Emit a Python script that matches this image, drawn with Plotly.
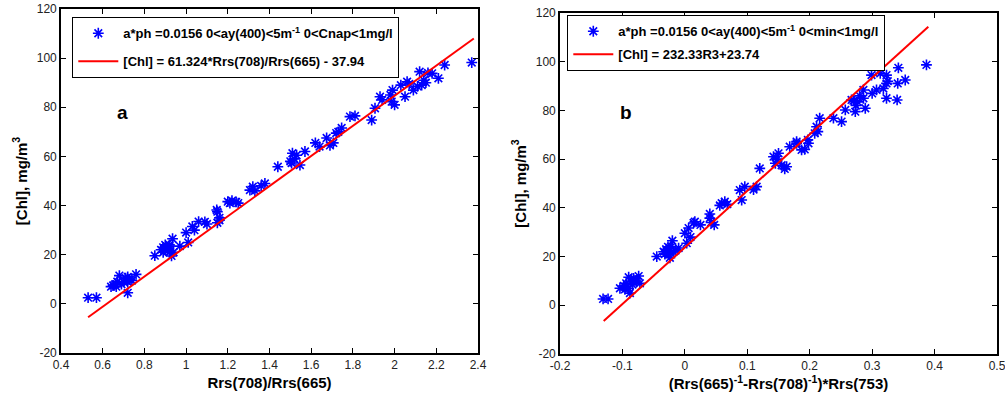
import plotly.graph_objects as go

# ---- Panel a data: Rrs(708)/Rrs(665) vs [Chl]
a_x = [0.53, 0.57,
       0.64, 0.65, 0.66, 0.67, 0.68, 0.69, 0.70, 0.71, 0.72, 0.72, 0.73, 0.74, 0.76, 0.665, 0.72,
       0.85,
       0.88, 0.89, 0.89, 0.90, 0.90, 0.91, 0.92, 0.92, 0.93, 0.935, 0.94, 0.92, 0.97, 0.895, 0.905,
       1.00, 1.01, 1.03, 1.04, 1.06, 1.10, 1.15, 1.15, 1.16, 1.16, 1.09, 1.147,
       1.21, 1.22, 1.24, 1.25, 1.20,
       1.306, 1.32, 1.33, 1.378, 1.36,
       1.44, 1.51, 1.506, 1.546, 1.57, 1.52, 1.53, 1.50,
       1.62, 1.674, 1.706, 1.72, 1.746, 1.64, 1.69, 1.73,
       1.786, 1.81, 1.89, 1.906, 1.93, 1.94, 1.98, 1.986, 2.00, 1.99, 2.03, 2.05, 2.06,
       2.09, 2.13, 2.12, 2.14, 2.16, 2.18, 2.21, 2.24, 2.37, 2.07, 2.11, 2.15]
a_y = [2.5, 2.5,
       7, 7.5, 8, 9, 11.5, 8, 9, 10.5, 11, 4.5, 10, 9.5, 12, 7, 9,
       19.6,
       22, 23, 21, 22.5, 24, 22, 21, 23.5, 19.5, 26.5, 21, 24, 23.5, 22, 23,
       29, 25, 31.5, 30, 33.5, 32.5, 33, 37.5, 35, 34, 33.4, 38.2,
       41, 42, 41.5, 41, 41.6,
       46.3, 47.7, 46, 49, 48,
       55.8, 61.3, 57.3, 56.5, 62, 59, 60.5, 58,
       65.5, 67.5, 65.5, 69.5, 71.6, 64, 64.5, 70,
       76.2, 76.5, 74.8, 79.6, 84.3, 83, 85, 82.3, 81, 87, 89, 84.3, 90.4,
       87, 89, 94.5, 91, 94, 93.8, 91.8, 97.2, 98.2, 89.5, 88.5, 90]

# ---- Panel b data: (Rrs(665)^-1 - Rrs(708)^-1)*Rrs(753) vs [Chl]
b_x = [-0.131, -0.123,
       -0.104, -0.098, -0.094, -0.090, -0.088, -0.085, -0.082, -0.078, -0.074, -0.072, -0.090, -0.096, -0.084,
       -0.045,
       -0.034, -0.030, -0.028, -0.025, -0.022, -0.020, -0.018, -0.024, -0.010, -0.032, -0.027, -0.015,
       0.000, 0.006, 0.003, 0.014, 0.025, 0.040, 0.042, 0.047, 0.016, 0.040, 0.009,
       0.059, 0.064, 0.056, 0.068,
       0.088, 0.091, 0.096, 0.115, 0.110,
       0.120, 0.142, 0.150, 0.145, 0.163, 0.155, 0.148, 0.160,
       0.168, 0.179, 0.187, 0.198, 0.208, 0.211, 0.192, 0.197, 0.179, 0.213,
       0.216, 0.238, 0.251, 0.257, 0.273, 0.289, 0.267, 0.270, 0.277, 0.286, 0.286, 0.307,
       0.318, 0.323, 0.323, 0.341, 0.353, 0.299, 0.313, 0.323, 0.342, 0.387, 0.280, 0.300,
       0.274, 0.325, 0.340]
b_y = [2.6, 2.6,
       7, 8, 9, 11.5, 5, 10, 11, 10, 12, 9, 7, 6.5, 8.5,
       20,
       22, 23, 22.5, 21, 24, 26.5, 22, 19.5, 23.5, 21, 24, 22.5,
       29.6, 31.7, 25.5, 33.8, 33, 37.5, 34, 33, 34.3, 35.8, 28,
       41.9, 42.5, 41, 41.5,
       47.3, 43.2, 48.7, 48.7, 47.5,
       56.2, 61, 62.4, 58.3, 56.9, 57.5, 60, 56,
       65.1, 67.2, 63.8, 66.5, 70.6, 73.3, 64, 67.9, 66.5, 71.3,
       76.8, 76.8, 75.4, 80.2, 79.5, 80.9, 84.3, 84, 83.5, 88.4, 85, 88.4,
       89, 85, 91.1, 91.1, 92.5, 94.5, 95.2, 94.5, 97.5, 98.7, 86, 87,
       82, 92, 84.3]

# ---- Fitted lines (from the legend equations)
fit_a = {"slope": 61.324, "intercept": -37.94, "x": [0.53, 2.38]}
fit_b = {"slope": 232.33, "intercept": 23.74, "x": [-0.13, 0.39]}

# ---- Tick labels
a_xticks = [0.4, 0.6, 0.8, 1.0, 1.2, 1.4, 1.6, 1.8, 2.0, 2.2, 2.4]
a_xticklabels = ["0.4", "0.6", "0.8", "1", "1.2", "1.4", "1.6", "1.8", "2", "2.2", "2.4"]
b_xticks = [-0.2, -0.1, 0, 0.1, 0.2, 0.3, 0.4, 0.5]
b_xticklabels = ["-0.2", "-0.1", "0", "0.1", "0.2", "0.3", "0.4", "0.5"]
yticks = [-20, 0, 20, 40, 60, 80, 100, 120]
yticklabels = ["-20", "0", "20", "40", "60", "80", "100", "120"]

legend_a = ["a*ph =0.0156 0<ay(400)<5m<sup>-1</sup> 0<Cnap<1mg/l",
            "[Chl] = 61.324*Rrs(708)/Rrs(665) - 37.94"]
legend_b = ["a*ph =0.0156 0<ay(400)<5m<sup>-1</sup> 0<min<1mg/l",
            "[Chl] = 232.33R3+23.74"]

FONT = "Liberation Sans, Arial, sans-serif"
BLUE = "#0000FF"
RED = "#FF0000"

fig = go.Figure()

marker = dict(symbol="asterisk-open", size=9, color=BLUE,
              line=dict(color=BLUE, width=1.6))

fig.add_trace(go.Scatter(x=a_x, y=a_y, mode="markers", marker=marker,
                         name=legend_a[0], xaxis="x", yaxis="y",
                         legend="legend", legendgroup="a1"))
fig.add_trace(go.Scatter(x=fit_a["x"],
                         y=[fit_a["slope"] * v + fit_a["intercept"] for v in fit_a["x"]],
                         mode="lines", line=dict(color=RED, width=2),
                         name=legend_a[1], xaxis="x", yaxis="y",
                         legend="legend", legendgroup="a2"))
fig.add_trace(go.Scatter(x=b_x, y=b_y, mode="markers", marker=marker,
                         name=legend_b[0], xaxis="x2", yaxis="y2",
                         legend="legend2", legendgroup="b1"))
fig.add_trace(go.Scatter(x=fit_b["x"],
                         y=[fit_b["slope"] * v + fit_b["intercept"] for v in fit_b["x"]],
                         mode="lines", line=dict(color=RED, width=2),
                         name=legend_b[1], xaxis="x2", yaxis="y2",
                         legend="legend2", legendgroup="b2"))

W, H = 1005, 403


def px_x(v):
    return v / W


def px_y(v):
    return 1 - v / H


axis_common = dict(showgrid=False, zeroline=False, showline=True, linecolor="black",
                   linewidth=1.6, mirror="ticks", ticks="inside", ticklen=5,
                   tickcolor="black", tickwidth=1, automargin=False,
                   ticklabeloverflow="allow",
                   tickfont=dict(family=FONT, size=12, color="#222"))

title_font = dict(family=FONT, size=15, color="black")
legend_font = dict(family=FONT, size=13, color="black", weight="bold")

fig.update_layout(
    width=W, height=H,
    margin=dict(l=0, r=0, t=0, b=0),
    paper_bgcolor="white", plot_bgcolor="white",
    showlegend=True,
    xaxis=dict(domain=[px_x(61), px_x(478)], range=[0.4, 2.4], tickvals=a_xticks,
               ticktext=a_xticklabels, anchor="y",
               title=dict(text="<b>Rrs(708)/Rrs(665)</b>", font=title_font, standoff=6),
               **axis_common),
    yaxis=dict(domain=[px_y(353), px_y(9)], range=[-20, 120], tickvals=yticks,
               ticktext=yticklabels, anchor="x",
               title=dict(text="<b>[Chl], mg/m<sup>3</sup></b>", font=title_font, standoff=6),
               **axis_common),
    xaxis2=dict(domain=[px_x(560), px_x(997)], range=[-0.2, 0.5], tickvals=b_xticks,
                ticktext=b_xticklabels, anchor="y2",
                title=dict(text="<b>(Rrs(665)<sup>-1</sup>-Rrs(708)<sup>-1</sup>)*Rrs(753)</b>",
                           font=title_font, standoff=6),
                **axis_common),
    yaxis2=dict(domain=[px_y(354), px_y(13)], range=[-20, 120], tickvals=yticks,
                ticktext=yticklabels, anchor="x2",
                title=dict(text="<b>[Chl], mg/m<sup>3</sup></b>", font=title_font, standoff=6),
                **axis_common),
    legend=dict(x=px_x(72), y=px_y(17), xanchor="left", yanchor="top",
                bgcolor="white", bordercolor="black", borderwidth=1.3,
                font=legend_font, tracegroupgap=8, traceorder="grouped",
                itemwidth=40),
    legend2=dict(x=px_x(567), y=px_y(15), xanchor="left", yanchor="top",
                 bgcolor="white", bordercolor="black", borderwidth=1.3,
                 font=legend_font, tracegroupgap=3, traceorder="grouped",
                 itemwidth=40),
    annotations=[
        dict(text="<b>a</b>", x=0.697, y=78, xref="x", yref="y", showarrow=False,
             font=dict(family=FONT, size=19, color="black")),
        dict(text="<b>b</b>", x=-0.094, y=79, xref="x2", yref="y2", showarrow=False,
             font=dict(family=FONT, size=19, color="black")),
    ],
)

fig.write_html("out.html", config={"displayModeBar": False},
               post_script="document.body.style.margin='0';document.body.style.overflow='hidden';")
